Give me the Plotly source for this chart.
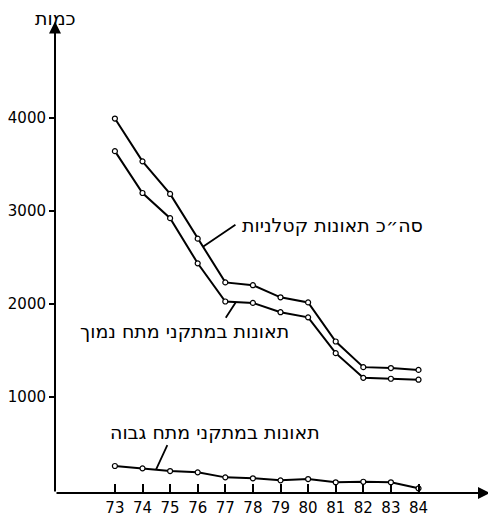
import plotly.graph_objects as go

years = [73, 74, 75, 76, 77, 78, 79, 80, 81, 82, 83, 84]
total_fatal = [3990, 3530, 3180, 2700, 2230, 2200, 2070, 2015, 1595, 1320, 1310, 1290]
low_voltage = [3640, 3190, 2920, 2435, 2025, 2010, 1910, 1855, 1470, 1205, 1195, 1185]
high_voltage = [258, 233, 204, 190, 136, 126, 104, 118, 83, 89, 83, 18]

y_ticks = [1000, 2000, 3000, 4000]
y_title = "כמות"
label_total = "סה״כ תאונות קטלניות"
label_low = "תאונות במתקני מתח נמוך"
label_high = "תאונות במתקני מתח גבוה"

FONT = "DejaVu Sans"
X_MIN, X_MAX = 70.83, 86.59
Y_MIN, Y_MAX = -32, 4941

fig = go.Figure()
for ys in (total_fatal, low_voltage, high_voltage):
    fig.add_trace(go.Scatter(
        x=years, y=ys, mode="lines+markers",
        line=dict(color="black", width=2),
        marker=dict(symbol="circle", size=5, color="white",
                    line=dict(color="black", width=1.2)),
        showlegend=False, hoverinfo="skip"))

annotations = [
    # axes with arrowheads
    dict(x=X_MIN, y=Y_MAX + 90, ax=X_MIN, ay=Y_MIN, xref="x", yref="y",
         axref="x", ayref="y", text="", showarrow=True, arrowhead=2,
         arrowsize=1.2, arrowwidth=2, arrowcolor="black"),
    dict(x=X_MAX, y=Y_MIN, ax=X_MIN, ay=Y_MIN, xref="x", yref="y",
         axref="x", ayref="y", text="", showarrow=True, arrowhead=2,
         arrowsize=1.2, arrowwidth=2, arrowcolor="black"),
    # y title
    dict(x=0.0, y=1.0, xref="paper", yref="paper", xanchor="center",
         yanchor="bottom", yshift=-1, text=y_title, showarrow=False,
         font=dict(family=FONT, size=19, color="black")),
    # series leader lines
    dict(x=76.19, y=2613, xref="x", yref="y", ax=34, ay=-23, text="",
         showarrow=True, arrowhead=0, arrowwidth=1.8, arrowcolor="black"),
    dict(x=77.38, y=2018, xref="x", yref="y", ax=-11, ay=17, text="",
         showarrow=True, arrowhead=0, arrowwidth=1.8, arrowcolor="black"),
    dict(x=74.49, y=219, xref="x", yref="y", ax=12, ay=-26, text="",
         showarrow=True, arrowhead=0, arrowwidth=1.8, arrowcolor="black"),
    # series labels
    dict(x=80.9, y=2846, xref="x", yref="y", xanchor="center",
         yanchor="middle", text=label_total, showarrow=False,
         font=dict(family=FONT, size=19, color="black")),
    dict(x=75.52, y=1708, xref="x", yref="y", xanchor="center",
         yanchor="middle", text=label_low, showarrow=False,
         font=dict(family=FONT, size=19, color="black")),
    dict(x=76.62, y=623, xref="x", yref="y", xanchor="center",
         yanchor="middle", text=label_high, showarrow=False,
         font=dict(family=FONT, size=19, color="black")),
]

# the page body has an 8px default margin, so the figure is sized to fit
fig.update_layout(
    width=488, height=508,
    margin=dict(l=47, r=6, t=22, b=23),
    paper_bgcolor="white", plot_bgcolor="white",
    font=dict(family=FONT, size=14, color="black"),
    annotations=annotations,
    xaxis=dict(range=[X_MIN, X_MAX], tickvals=years,
               ticktext=[str(y) for y in years], ticks="inside",
               ticklen=9, tickwidth=1.5, tickcolor="black",
               showgrid=False, zeroline=False, showline=False,
               automargin=False, ticklabelstandoff=4,
               tickfont=dict(family=FONT, size=15, color="black")),
    yaxis=dict(range=[Y_MIN, Y_MAX], tickvals=y_ticks, ticks="outside",
               ticklen=5, tickwidth=1.5, tickcolor="black",
               showgrid=False, zeroline=False, showline=False,
               automargin=False,
               tickfont=dict(family=FONT, size=15, color="black")),
)

fig.write_html("out.html")
